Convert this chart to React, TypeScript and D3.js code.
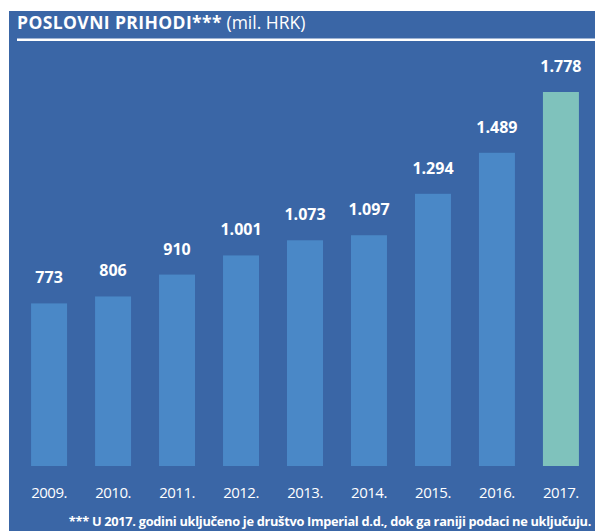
import React from "react";
import * as d3 from "d3";

const years = ["2009.", "2010.", "2011.", "2012.", "2013.", "2014.", "2015.", "2016.", "2017."];
const values = [773, 806, 910, 1001, 1073, 1097, 1294, 1489, 1778];
const valueLabels = ["773", "806", "910", "1.001", "1.073", "1.097", "1.294", "1.489", "1.778"];
const highlightYear = "2017.";

const W = 595;
const H = 531;

export default function App() {
  const x = d3.scaleBand<string>().domain(years).range([17, 593]).paddingInner(0.4375).paddingOuter(0.22);
  const y = d3.scaleLinear().domain([0, 1778]).range([466, 92]);
  const font = "'Open Sans', 'Noto Sans', sans-serif";
  return (
    <svg width={W} height={H} style={{ position: "absolute", left: 0, top: 0 }}>
      <rect x={0} y={0} width={W} height={H} fill="#ffffff" />
      <rect x={9} y={11} width={W - 9} height={H - 11} fill="#3a66a6" />
      <rect x={17} y={38.5} width={W - 17} height={2.5} fill="#ffffff" />
      <text x={17} y={29} fill="#fff" fontFamily={font} fontSize={17.5}>
        <tspan fontWeight="bold" letterSpacing={0.4}>POSLOVNI PRIHODI***</tspan>
        <tspan> (mil. HRK)</tspan>
      </text>
      {years.map((yr, i) => (
        <g key={yr}>
          <rect
            x={x(yr)}
            y={y(values[i])}
            width={x.bandwidth()}
            height={y(0) - y(values[i])}
            fill={yr === highlightYear ? "#7fc2bc" : "#4a88c7"}
          />
          <text
            x={(x(yr) as number) + x.bandwidth() / 2}
            y={y(values[i]) - 20}
            textAnchor="middle"
            fill="#fff"
            fontFamily={font}
            fontWeight="bold"
            fontSize={16}
          >
            {valueLabels[i]}
          </text>
          <text
            x={(x(yr) as number) + x.bandwidth() / 2}
            y={498}
            textAnchor="middle"
            fill="#fff"
            fontFamily={font}
            fontSize={15}
            letterSpacing={-0.5}
          >
            {yr}
          </text>
        </g>
      ))}
      <text x={591} y={526} textAnchor="end" fill="#fff" fontFamily={font} fontWeight="bold" fontSize={12.8} letterSpacing={-0.3}>
        *** U 2017. godini uključeno je društvo Imperial d.d., dok ga raniji podaci ne uključuju.
      </text>
    </svg>
  );
}
